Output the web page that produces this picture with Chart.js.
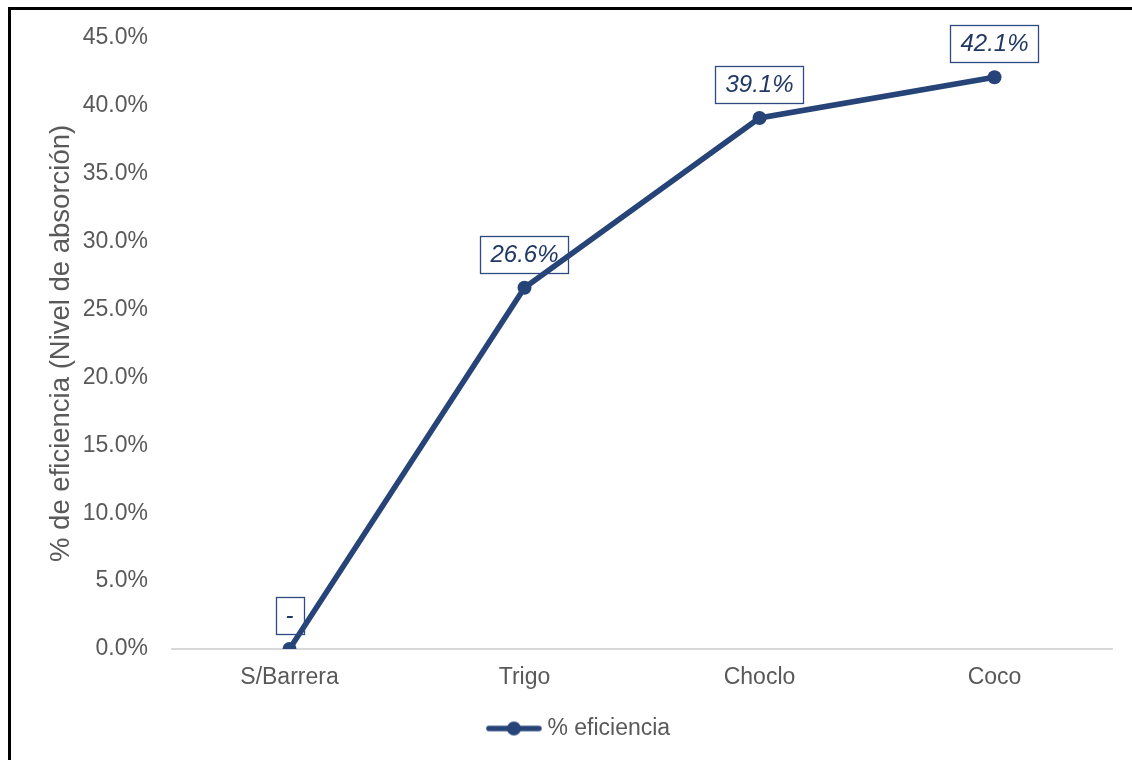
<!DOCTYPE html>
<html>
<head>
<meta charset="utf-8">
<script src="https://cdn.jsdelivr.net/npm/chart.js@4.4.1/dist/chart.umd.min.js"></script>
<style>
  html, body { margin:0; padding:0; background:#fff; }
  #wrap { position:relative; width:1132px; height:760px; }
  #frame { position:absolute; left:8px; top:7px; right:0; bottom:0;
           border-top:3px solid #000; border-left:3px solid #000; pointer-events:none; }
</style>
</head>
<body>
<div id="wrap">
  <canvas id="chart" width="1132" height="760"></canvas>
  <div id="frame"></div>
</div>
<script>
const categories = ['S/Barrera', 'Trigo', 'Choclo', 'Coco'];
const eficiencia = [0, 26.6, 39.1, 42.1];
const seriesName = '% eficiencia';
const yTitle     = '% de eficiencia (Nivel de absorción)';

const NAVY  = '#264478';
const LBL   = '#203864';
const GREY  = '#595959';
const FONT  = "'Liberation Sans', Arial, sans-serif";

// legend swatch: short line with a dot in the middle (shifted right inside the canvas)
const swatch = document.createElement('canvas');
swatch.width = 64; swatch.height = 16;
(() => {
  const c = swatch.getContext('2d');
  c.strokeStyle = NAVY; c.lineWidth = 5.5; c.lineCap = 'round';
  c.beginPath(); c.moveTo(10, 8); c.lineTo(60, 8); c.stroke();
  c.fillStyle = NAVY;
  c.beginPath(); c.arc(35, 8, 7, 0, Math.PI * 2); c.fill();
})();

const fmtPct = v => v === 0 ? '-' : v.toFixed(1) + '%';

// boxed italic value labels above each point
const boxLabels = {
  id: 'boxLabels',
  afterDatasetsDraw(chart) {
    const ctx = chart.ctx;
    const meta = chart.getDatasetMeta(0);
    ctx.save();
    ctx.font = `italic 24px ${FONT}`;
    ctx.textAlign = 'center';
    ctx.textBaseline = 'middle';
    meta.data.forEach((pt, i) => {
      const txt = fmtPct(eficiencia[i]);
      const w = ctx.measureText(txt).width + 20;
      const h = 37;
      const x = pt.x - w / 2;
      const y = pt.y - 15 - h;
      ctx.strokeStyle = '#2E4A7E';
      ctx.lineWidth = 1.3;
      ctx.strokeRect(Math.round(x) + 0.5, Math.round(y) + 0.5, Math.round(w), h);
      ctx.fillStyle = LBL;
      ctx.fillText(txt, pt.x, y + h / 2 + 1);
    });
    ctx.restore();
  }
};

new Chart(document.getElementById('chart'), {
  type: 'line',
  data: {
    labels: categories,
    datasets: [{
      label: seriesName,
      data: eficiencia,
      borderColor: NAVY,
      backgroundColor: NAVY,
      borderWidth: 5.5,
      pointRadius: 7,
      pointHoverRadius: 7,
      pointBackgroundColor: NAVY,
      pointBorderWidth: 0,
      tension: 0,
      pointStyle: 'circle'
    }]
  },
  options: {
    responsive: false,
    animation: false,
    layout: { padding: { top: 36, right: 20, bottom: 10, left: 44 } },
    plugins: {
      legend: {
        position: 'bottom',
        labels: {
          usePointStyle: true,
          pointStyle: swatch,
          pointStyleWidth: 50,
          color: GREY,
          font: { family: FONT, size: 23 },
          padding: 12,
          generateLabels: chart => [{
            text: seriesName, pointStyle: swatch, fontColor: GREY,
            datasetIndex: 0, hidden: false, lineWidth: 0
          }]
        }
      },
      tooltip: { enabled: false }
    },
    scales: {
      x: {
        offset: true,
        grid: { display: false, drawTicks: false },
        border: { display: true, color: '#D9D9D9', width: 2 },
        ticks: { color: GREY, font: { family: FONT, size: 23 }, padding: 15 },
        afterFit: s => { s.height = 56; }
      },
      y: {
        min: 0, max: 45,
        grid: { display: false, drawTicks: false },
        border: { display: false },
        ticks: {
          stepSize: 5, color: GREY, padding: 24,
          font: { family: FONT, size: 23 },
          callback: v => v.toFixed(1) + '%'
        },
        title: {
          display: true, text: yTitle, color: GREY,
          font: { family: FONT, size: 27.5 }, padding: { top: 1 }
        },
        afterFit: s => { s.width = 128; }
      }
    }
  },
  plugins: [boxLabels]
});
</script>
</body>
</html>
